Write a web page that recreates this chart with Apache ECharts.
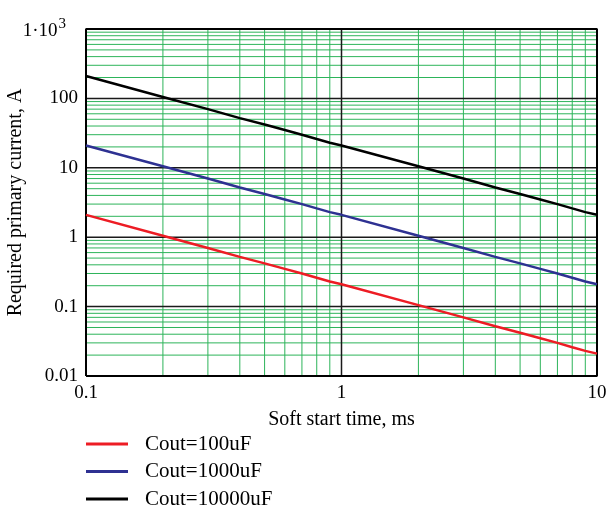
<!DOCTYPE html>
<html>
<head>
<meta charset="utf-8">
<script src="https://cdn.jsdelivr.net/npm/echarts@6/dist/echarts.min.js"></script>
<style>
  html, body { margin: 0; padding: 0; background: #fff; }
  #chart { width: 613px; height: 508px; }
</style>
</head>
<body>
<div id="chart"></div>
<script>
var times = [0.1, 0.2, 0.3, 0.4, 0.5, 0.6, 0.7, 0.8, 0.9, 1, 2, 3, 4, 5, 6, 7, 8, 9, 10];
var cout100 = [2.1, 1.05, 0.7, 0.52, 0.42, 0.35, 0.3, 0.26, 0.23, 0.21, 0.105, 0.07, 0.052, 0.042, 0.035, 0.03, 0.026, 0.023, 0.021];
var cout1000 = [21, 10.5, 7, 5.2, 4.2, 3.5, 3, 2.6, 2.3, 2.1, 1.05, 0.7, 0.52, 0.42, 0.35, 0.3, 0.26, 0.23, 0.21];
var cout10000 = [210, 105, 70, 52, 42, 35, 30, 26, 23, 21, 10.5, 7, 5.2, 4.2, 3.5, 3, 2.6, 2.3, 2.1];
var seriesNames = ['Cout=100uF', 'Cout=1000uF', 'Cout=10000uF'];
var seriesColors = ['#ed1c24', '#2e3192', '#000000'];

var xTicks = [0.1, 1, 10];
var xTickLabels = ['0.1', '1', '10'];
var yTicks = [0.01, 0.1, 1, 10, 100, 1000];
var yTickLabels = ['0.01', '0.1', '1', '10', '100', '{a|1·10}{s|3}'];

// minor grid values (2..9 of each decade)
var xMinor = [0.2, 0.3, 0.4, 0.5, 0.6, 0.7, 0.8, 0.9, 2, 3, 4, 5, 6, 7, 8, 9];
var yMinor = [];
[0.01, 0.1, 1, 10, 100].forEach(function (d) {
    for (var k = 2; k <= 9; k++) {
        yMinor.push(+(d * k).toPrecision(3));
    }
});
var xMajor = [1];
var yMajor = [0.1, 1, 10, 100];

var FONT = '"Liberation Serif", "Times New Roman", serif';
var X_MIN = 0.1, X_MAX = 10, Y_MIN = 0.01, Y_MAX = 1000;

function pairs(ys) {
    return times.map(function (t, i) { return [t, ys[i]]; });
}

function lookup(ticks, labels, v) {
    for (var i = 0; i < ticks.length; i++) {
        if (Math.abs(Math.log10(v) - Math.log10(ticks[i])) < 1e-6) {
            return labels[i];
        }
    }
    return '';
}

// one grid line = a two point line series through the axes
function gridSeries(points, color, width, z) {
    return {
        type: 'line',
        data: points,
        silent: true,
        symbol: 'none',
        showSymbol: false,
        color: color,
        lineStyle: { color: color, width: width, opacity: 1 },
        emphasis: { disabled: true },
        tooltip: { show: false },
        z: z
    };
}

var dom = document.getElementById('chart');
var chart = echarts.init(dom);

var series = [];
xMinor.forEach(function (v) { series.push(gridSeries([[v, Y_MIN], [v, Y_MAX]], '#2db45a', 1, 1)); });
yMinor.forEach(function (v) { series.push(gridSeries([[X_MIN, v], [X_MAX, v]], '#2db45a', 1, 1)); });
xMajor.forEach(function (v) { series.push(gridSeries([[v, Y_MIN], [v, Y_MAX]], '#1a1a1a', 1.5, 2)); });
yMajor.forEach(function (v) { series.push(gridSeries([[X_MIN, v], [X_MAX, v]], '#1a1a1a', 1.5, 2)); });

// frame
series.push(gridSeries([[X_MIN, Y_MIN], [X_MAX, Y_MIN], [X_MAX, Y_MAX], [X_MIN, Y_MAX], [X_MIN, Y_MIN]], '#000', 2, 3));

var curves = [cout100, cout1000, cout10000];
curves.forEach(function (ys, i) {
    series.push({
        name: seriesNames[i],
        type: 'line',
        data: pairs(ys),
        showSymbol: false,
        symbol: 'none',
        color: seriesColors[i],
        lineStyle: { color: seriesColors[i], width: 2.5 },
        z: 5
    });
});

var option = {
    animation: false,
    textStyle: { fontFamily: FONT },
    grid: { left: 86, right: 16, top: 29, bottom: 132, show: false, containLabel: false, outerBoundsMode: 'none' },
    xAxis: {
        type: 'log',
        logBase: 10,
        min: X_MIN,
        max: X_MAX,
        name: 'Soft start time, ms',
        nameLocation: 'middle',
        nameGap: 34,
        nameMoveOverlap: false,
        nameTextStyle: { fontFamily: FONT, fontSize: 20, color: '#000' },
        axisLine: { show: false },
        axisTick: { show: false },
        axisLabel: {
            fontFamily: FONT, fontSize: 19, color: '#000', margin: 8,
            formatter: function (v) { return lookup(xTicks, xTickLabels, v); }
        },
        splitLine: { show: false },
        minorSplitLine: { show: false }
    },
    yAxis: {
        type: 'log',
        logBase: 10,
        min: Y_MIN,
        max: Y_MAX,
        name: 'Required primary current, A',
        nameLocation: 'middle',
        nameGap: 60,
        nameMoveOverlap: false,
        nameTextStyle: { fontFamily: FONT, fontSize: 20, color: '#000' },
        axisLine: { show: false },
        axisTick: { show: false },
        axisLabel: {
            fontFamily: FONT, fontSize: 19, color: '#000', margin: 8,
            formatter: function (v) { return lookup(yTicks, yTickLabels, v); },
            rich: {
                a: { fontFamily: FONT, fontSize: 19, color: '#000', verticalAlign: 'bottom', lineHeight: 24 },
                s: { fontFamily: FONT, fontSize: 15, color: '#000', verticalAlign: 'top', padding: [0, 12, 0, 1] }
            }
        },
        splitLine: { show: false },
        minorSplitLine: { show: false }
    },
    legend: {
        orient: 'vertical',
        left: 86,
        top: 433,
        height: 80,
        padding: 0,
        icon: 'rect',
        itemWidth: 42,
        itemHeight: 3,
        itemGap: 5.5,
        data: seriesNames,
        textStyle: { fontFamily: FONT, fontSize: 21, lineHeight: 22, color: '#000', padding: [0, 0, 0, 12] }
    },
    series: series
};

chart.setOption(option, true);
</script>
</body>
</html>
